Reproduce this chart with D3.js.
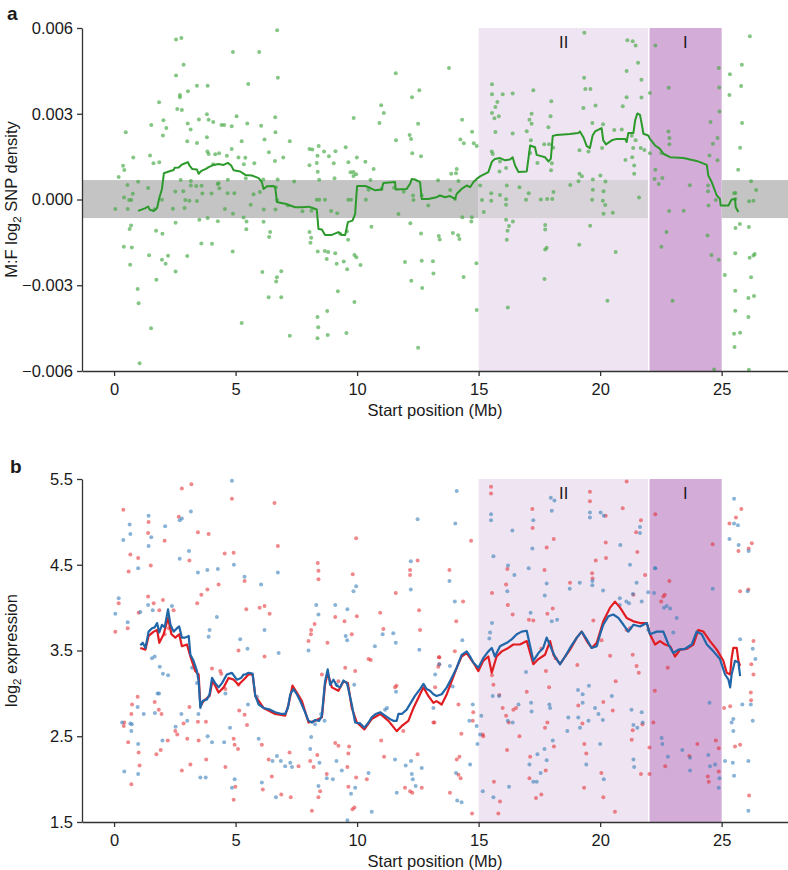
<!DOCTYPE html>
<html><head><meta charset="utf-8">
<script src="https://cdn.jsdelivr.net/npm/d3@7/dist/d3.min.js"></script>
<style>
body{margin:0;background:#fff;}
svg{display:block;}
text{font-family:"Liberation Sans",Arial,Helvetica,sans-serif;fill:#1a1a1a;}
</style></head>
<body><svg id="chart" width="788" height="870"></svg>
<script>
// ---------------- DATA ----------------
const xTicks = [0, 5, 10, 15, 20, 25];
const snpTicks = [-0.006, -0.003, 0, 0.003, 0.006];
const exprTicks = [1.5, 2.5, 3.5, 4.5, 5.5];
const regions = [{label: "II", start: 15, end: 22}, {label: "I", start: 22, end: 25}];
const snpBand = [-0.00065, 0.00068];

// Panel a: M:F log2 SNP density per window [start Mb, value]
const snpPoints = [
[6.71,0.00592],[2.55,0.0056],[2.77,0.00565],[4.89,0.00516],[5.97,0.00516],[2.86,0.00471],[6.74,0.00426],[11.59,0.00442],[2.55,0.00434],[5.52,0.00404],[3.41,0.00398],[3.85,0.00398],[3.04,0.00379],[2.71,0.00366],[2.71,0.00358],[12.26,0.00358],[12.56,0.00382],[1.85,0.0034],[2.6,0.00317],[2.79,0.00313],[10.99,0.0033],[11.1,0.00303],[5.04,0.00291],[3.82,0.00298],[2.03,0.00277],[6.63,0.00288],[9.86,0.00285],[1.53,0.00261],[3.03,0.00266],[3.49,0.0028],[3.89,0.00279],[4.08,0.00271],[4.42,0.00261],[4.53,0.00261],[4.84,0.00256],[5.48,0.00266],[6.05,0.00258],[10.92,0.00268],[12.51,0.00265],[0.48,0.00235],[2.15,0.0025],[3.15,0.00245],[6.64,0.00235],[2.01,0.00224],[12.16,0.00226],[11.6,0.00207],[12.22,0.00212],[3.82,0.00218],[6.19,0.0021],[7.23,0.00204],[3.01,0.00204],[3.41,0.00198],[5.25,0.00204],[8.42,0.00187],[8.04,0.00177],[8.16,0.00175],[9.53,0.00183],[9.11,0.00169],[8.64,0.00168],[4.84,0.00177],[3.84,0.00168],[3.89,0.00159],[4.32,0.00162],[4.16,0.00158],[4.64,0.00153],[5.12,0.00147],[5.4,0.00146],[6.37,0.00165],[6.62,0.00135],[6.96,0.00147],[1.48,0.00154],[0.79,0.00147],[12.27,0.00162],[12.63,0.00151],[8.37,0.00153],[8.34,0.00128],[8.84,0.00151],[9.64,0.0013],[9.99,0.00147],[10.34,0.00132],[8.04,0.0012],[9.04,0.00127],[0.37,0.00118],[1.62,0.00127],[1.86,0.0013],[0.42,0.00103],[4.08,0.00123],[5.34,0.00123],[5.77,0.00127],[10.68,0.00107],[8.38,0.00097],[9.73,0.00095],[9.85,0.00096],[9.96,0.00088],[9.85,0.00082],[9.07,0.00074],[8.44,0.00069],[7.41,0.00063],[6.73,0.0007],[6.14,0.0007],[5.42,0.00074],[4.68,0.00069],[4.3,0.00057],[2.74,0.00068],[3.16,0.00065],[0.99,0.00062],[0.19,0.00079],
[0.55,0.00051],[0.77,0.0002],[1.4,0.0004],[0.41,0.00007],[0.62,-0.00002],[0.71,-0.00002],[0.56,-0.00033],[0.05,-0.00033],[1.67,-0.00034],[1.97,-0.00001],[2.52,0.00028],[2.85,0.00029],[2.93,-0.00002],[3.1,-0.00004],[3.41,-0.00005],[3.63,0.00021],[3.16,0.00049],[3.38,0.00047],[3.6,0.00048],[4.26,0.00054],[4.33,0.00039],[4.67,0.00022],[4.95,0.00022],[4.01,0.00021],[2.42,-0.00032],[2.9,-0.0003],[4.56,-0.00033],[4.89,-0.0005],[5.62,-0.00018],[6,0.00026],[6.16,-0.00035],[6.64,-0.00035],[7.15,-0.00021],[8.34,-0.00001],[8.44,-0.00001],[8.68,-0.00001],[9.64,-0.00001],[9.75,-0.00001],[9.18,-0.00048],[8.93,-0.0004],[5.74,0.00018],[6.66,0.00043],[6.71,-0.00002],[7.75,-0.00041],[8.12,-0.00039],[10.55,0.00068],[10.47,0.00034],[11.01,0.00037],[11.52,0.00041],[11.92,0.00027],[12.3,0.00014],[12.32,-0.00002],[12.66,0.00014],[11.7,-0.00051],[10.36,-0.00001],[12.93,-0.00021],
[3.85,-0.00065],[3.51,-0.00071],[4.27,-0.00076],[2.53,-0.00081],[5.33,-0.00063],[5.45,-0.00077],[6.15,-0.00078],[0.7,-0.00091],[0.64,-0.00103],[1.73,-0.00109],[1.99,-0.0012],[5.44,-0.00104],[6.42,-0.00114],[6.38,-0.00131],[8.04,-0.00114],[8.11,-0.00134],[9.3,-0.0012],[9.58,-0.00111],[10.59,-0.00095],[12.19,-0.00083],[13.36,-0.00128],[13.4,-0.0014],[12.63,-0.00119],[0.4,-0.00165],[0.73,-0.00168],[3.59,-0.00154],[4.03,-0.00155],[8.08,-0.00151],[9.63,-0.00141],[1.44,-0.00195],[2.22,-0.00197],[1.97,-0.00211],[2.12,-0.00225],[3.01,-0.00198],[4.88,-0.00182],[8.38,-0.00182],[8.67,-0.0018],[8.81,-0.00184],[9.1,-0.00188],[9.89,-0.00194],[9.97,-0.00202],[0.66,-0.00228],[8.75,-0.00208],[9.16,-0.00225],[9.45,-0.00217],[9.59,-0.00244],[10.14,-0.00229],[11.97,-0.00219],[12.66,-0.00214],[2.53,-0.00252],[6.1,-0.00254],[6.88,-0.00251],[6.7,-0.00272],[6.67,-0.00287],[1.74,-0.00281],[0.97,-0.00313],[13.14,-0.00259],[12.23,-0.00284],[12.68,-0.0031],[9.21,-0.00321],[1.01,-0.00363],[6.36,-0.00342],[6.88,-0.00342],[9.89,-0.00359],[5.25,-0.00432],[1.52,-0.0045],[8.77,-0.0039],[8.37,-0.00411],[8.4,-0.00447],[8.37,-0.00485],[8.79,-0.00474],[9.56,-0.00467],[7.23,-0.00477],[12.51,-0.00519],[1.05,-0.00573],
[19.35,0.00583],[21.12,0.00557],[21.34,0.00554],[21.46,0.00539],[21.56,0.00478],[21.09,0.0045],[21.7,0.00419],[22.05,0.00373],[22.27,0.00539],[22.82,0.00391],[21.7,0.00357],[20.93,0.00326],[21.09,0.00358],[13.78,0.0046],[15.55,0.00403],[15.55,0.00368],[15.99,0.00368],[16.4,0.00371],[17.25,0.00382],[19.34,0.00426],[19.39,0.00387],[19.6,0.00387],[17.99,0.00344],[15.77,0.00341],[15.69,0.00324],[15.55,0.00303],[15.83,0.00291],[15.65,0.00284],[17.18,0.003],[17.09,0.00279],[17.18,0.00265],[17.96,0.00291],[16.4,0.00231],[16.98,0.00239],[15.69,0.00236],[17.87,0.00253],[19.31,0.0032],[19.81,0.00329],[19.68,0.00268],[20.12,0.00263],[20.58,0.00243],[20.89,0.00245],[21.3,0.00223],[21.46,0.00207],[14.32,0.00279],[14.73,0.00237],[14.25,0.0021],[14.39,0.00197],[14.8,0.00197],[14.92,0.00187],[15.54,0.00168],[15.58,0.00159],[15.88,0.00133],[15.86,0.00098],[16.13,0.0011],[17.15,0.00207],[17.12,0.00163],[17.42,0.00128],[17.7,0.00193],[17.9,0.00193],[18.07,0.00181],[17.98,0.00102],[18.01,0.00127],[19.15,0.00172],[19.52,0.00168],[20.08,0.0018],[19.15,0.0009],[19.25,0.00081],[19.7,0.0007],[20.01,0.00084],[20.22,0.00063],[21.36,0.0018],[21.67,0.0018],[21.82,0.00173],[21.4,0.00119],[21.4,0.0009],[21.04,0.00138],[21.32,0.00148],[22.81,0.00238],[22.85,0.00215],[22.85,0.00193],[22.52,0.00163],[22.05,0.00162],[22.27,0.00104],[22.41,0.00054],[22.56,0.00075],[22.24,0.00072],[24.54,0.00271],[24.64,0.00195],[24.83,0.00215],[24.91,0.00308],[24.9,0.00392],[24.83,0.00137],[24.88,0.0046],[24.5,0.00154],[24.44,0.00049],[24.44,0.00029],[24.76,-0.00002],[25.34,0.00438],[25.32,0.00366],[25.83,0.00471],[25.8,0.00397],[25.84,0.00268],[25.76,0.00181],[25.68,0.00104],[26.21,0.00064],[26.42,0.00033],[26.13,-0.00006],[26.31,-0.00004],[25.57,0.00023],[25.57,0.00002],[26.16,0.00571],[13.33,0.00067],[14.1,0.00107],[14.07,0.00092],[13.87,0.0009],[14.17,0.00065],
[15.06,0.00049],[15.14,-0.00002],[15.21,-0.00044],[15.52,0.00022],[15.52,-0.00004],[15.88,0.00016],[16.16,0.00049],[16.13,0.00001],[16.13,-0.00018],[16.68,0.00043],[17.06,0.00022],[16.95,-0.00001],[17.56,0],[17.82,0.00002],[18.03,0.00002],[18.08,0.00026],[18.77,0.00051],[19.11,0.00064],[19.7,0.00034],[19.67,-0.00001],[20.11,-0.00004],[20.14,0.00029],[20.21,-0.00019],[20.14,-0.0005],[20.52,-0.00046],[21.6,0.00007],[22.84,-0.0004],[23.44,-0.00039],[23.69,0.0005],[24.46,-0.00021],[25.51,0.00022],[14.33,-0.00062],[14.72,-0.00062],[14.7,-0.00077],[14.03,0.00002],[13.83,0.00033],
[16.13,-0.00071],[16.25,-0.00093],[16.19,-0.00109],[16.16,-0.00141],[16.41,-0.00077],[17.74,-0.00089],[17.74,-0.00105],[17.74,-0.00175],[17.8,-0.00169],[19.14,-0.00158],[19.59,-0.00092],[20.64,-0.00184],[22.73,-0.00114],[22.52,-0.00165],[24.42,-0.00126],[24.58,-0.00194],[24.88,-0.00211],[25.57,-0.001],[25.56,-0.00188],[25.75,-0.00086],[26.12,-0.00096],[26.15,-0.00204],[26.31,-0.00196],[26.36,-0.00191],[26.21,-0.00272],[26.33,-0.00338],[26.1,-0.00345],[26.1,-0.00411],[25.56,-0.00319],[25.56,-0.00389],[25.51,-0.0047],[25.76,-0.00466],[25.53,-0.00516],[26.12,-0.00596],[25.13,-0.00264],[24.69,-0.00595],[22.98,-0.00354],[20.3,-0.00354],[17.71,-0.00278],[16.2,-0.00378],[14.92,-0.00387],[14.91,-0.00223],[14.38,-0.00271],[13.12,-0.00216],[13.94,-0.00117],[14.16,-0.00125],[14.21,-0.00138]
];

// Panel a: sliding-window average
const snpLine = [
[0.99,-0.0004],[1.29,-0.0003],[1.4,-0.00025],[1.47,-0.00036],[1.63,-0.0004],[1.77,-0.0003],[1.86,0.00005],[1.97,0.00037],[2.05,0.00092],[2.25,0.00098],[2.45,0.00103],[2.49,0.00111],[2.66,0.00112],[2.77,0.00121],[2.9,0.00126],[3.04,0.00131],[3.1,0.00119],[3.21,0.00107],[3.41,0.00105],[3.48,0.0009],[3.59,0.001],[3.78,0.00107],[3.89,0.00113],[4.1,0.00121],[4.3,0.00124],[4.51,0.00121],[4.68,0.00128],[4.82,0.00119],[4.92,0.00102],[5.19,0.00098],[5.4,0.00086],[5.67,0.00084],[5.95,0.00075],[6.08,0.00061],[6.15,0.00037],[6.29,0.00046],[6.56,0.00047],[6.63,0.00043],[6.7,-0.00009],[6.88,-0.00012],[7.04,-0.00015],[7.25,-0.00021],[7.45,-0.00027],[7.73,-0.00027],[8,-0.00025],[8.14,-0.00029],[8.34,-0.00035],[8.41,-0.00103],[8.55,-0.00105],[8.68,-0.00124],[8.96,-0.00124],[9.23,-0.00114],[9.37,-0.00124],[9.51,-0.00124],[9.62,-0.00079],[9.81,-0.00074],[9.92,-0.0005],[9.96,0.00002],[10,0.00047],[10.33,0.00047],[10.53,0.00041],[10.74,0.00032],[11.01,0.00035],[11.08,0.00058],[11.56,0.00061],[11.59,0.00035],[12.04,0.00037],[12.18,0.00055],[12.25,0.00072],[12.38,0.0007],[12.59,0.00061],[12.66,0.00002],[12.93,0.00002],[13.27,0.00008],[13.41,0.00014],[13.62,0.00008],[13.82,0.00012],[14.03,0.00002],[14.1,0.0002],[14.3,0.00037],[14.51,0.00049],[14.65,0.00043],[14.79,0.00061],[14.92,0.00072],[15.06,0.00081],[15.4,0.00096],[15.54,0.00131],[15.67,0.00142],[15.88,0.00145],[16.09,0.00137],[16.29,0.0014],[16.4,0.00148],[16.5,0.00119],[16.64,0.00096],[16.98,0.00098],[17.12,0.00189],[17.32,0.00183],[17.39,0.00156],[17.73,0.00148],[17.87,0.00133],[17.97,0.00142],[18.05,0.00222],[18.21,0.00226],[18.76,0.00229],[19.1,0.00233],[19.17,0.00238],[19.31,0.00218],[19.45,0.00187],[19.58,0.0018],[19.69,0.00224],[19.79,0.00238],[20.06,0.0025],[20.13,0.00207],[20.24,0.00193],[20.48,0.00207],[20.68,0.00212],[21.03,0.00212],[21.09,0.00201],[21.16,0.00233],[21.37,0.00233],[21.44,0.00277],[21.53,0.00301],[21.64,0.00296],[21.71,0.00265],[21.78,0.0023],[21.98,0.00224],[22.05,0.00212],[22.26,0.00189],[22.46,0.00177],[22.6,0.0016],[22.88,0.00148],[23.43,0.00145],[23.97,0.00135],[24.39,0.00121],[24.45,0.00084],[24.59,0.00061],[24.8,0.00014],[24.93,0.00002],[24.96,-0.00021],[25.28,-0.00021],[25.41,0],[25.55,0.00002],[25.58,-0.00027],[25.69,-0.00044]
];

// Panel b: log2 expression per gene, two samples
const exprRed = [
[0.38,5.14],[0.67,4.62],[0.6,4.42],[0.99,4.58],[1.42,5.0],[1.4,4.87],[1.51,4.49],[2.08,4.78],[2.66,5.06],[2.79,5.39],[3.18,5.44],[3.1,4.55],[3.45,4.88],[3.89,4.86],[4.55,4.63],[4.92,4.64],[4.85,5.27],[6.6,5.22],[6.74,4.72],[8.38,4.52],[8.41,4.43],[8.41,4.33],[9.96,4.81],[9.82,4.39],[11.59,4.17],[12.18,4.44],[12.18,4.38],[12.49,4.55],[12.55,3.97],[0.05,3.72],[0.19,4.05],[0.56,3.76],[1.01,3.94],[1.4,4.13],[1.63,4.05],[2.01,4.09],[1.86,3.97],[2.25,3.76],[2.45,3.97],[2.08,3.69],[3.42,4.05],[3.59,4.15],[3.84,4.21],[4.3,4.27],[5.44,3.98],[5.37,4.31],[5.99,4.0],[6.19,4.02],[6.4,3.93],[6.19,3.43],[5.12,3.5],[8.1,3.69],[8.11,3.74],[8.25,3.81],[8.78,3.59],[9.1,3.89],[9.48,3.84],[9.78,3.69],[9.99,3.9],[10.95,3.94],[11.08,3.75],[10.56,3.39],[13.37,3.42],[13.34,3.31],[12.59,3.74],[13.21,3.07],[11.56,3.07],[0.4,2.62],[0.74,2.87],[0.71,2.76],[0.97,2.96],[0.42,2.66],[0.58,2.43],[1.01,2.31],[1.05,2.16],[0.71,1.94],[1.67,2.9],[1.84,2.81],[1.95,2.76],[1.74,2.29],[1.92,2.34],[2.21,2.45],[2.52,2.56],[2.6,2.52],[2.79,2.1],[3.01,2.47],[3.14,2.17],[3.48,2.45],[3.45,2.67],[3.78,2.67],[3.79,2.23],[4.03,3.29],[4.37,3.26],[4.41,3.23],[4.58,3.05],[5.12,3.1],[4.92,2.47],[4.96,2.4],[5.1,2.35],[4.99,1.91],[4.92,1.76],[4.58,2.14],[5.47,2.63],[5.37,2.75],[5.15,2.8],[6.08,2.4],[6.12,1.88],[6.36,2.23],[6.49,2.03],[6.88,1.82],[7.27,1.79],[7.22,2.31],[7.59,2.15],[8.07,2.21],[8.21,2.14],[8.36,2.28],[8.48,1.86],[8.41,1.79],[8.14,1.63],[8.75,2.06],[9.1,2.42],[9.23,2.39],[9.67,2.38],[9.64,2.3],[9.6,2.14],[9.96,2.02],[9.64,1.91],[9.81,1.65],[9.89,1.67],[8.0,3.61],[8.55,3.22],[9.23,3.14],[9.51,3.3],[9.92,3.26],[10.47,3.4],[10.99,2.45],[11.11,2.26],[11.62,3.09],[11.9,2.56],[11.97,1.9],[12.18,1.86],[12.27,1.84],[12.49,2.29],[12.66,1.9],[13.14,2.66],[10.4,2.0],[2.86,2.65],[3.1,2.84],
[15.51,5.41],[15.51,5.33],[17.21,5.15],[17.22,4.93],[17.8,4.7],[18.09,4.8],[19.58,5.35],[19.58,5.24],[20.23,5.07],[20.93,5.16],[21.09,5.47],[21.48,4.88],[21.68,5.02],[22.27,5.09],[24.63,4.74],[25.69,4.66],[25.81,5.15],[25.59,5.05],[25.32,4.98],[26.11,4.69],[26.24,4.75],[19.82,4.55],[19.67,4.4],[19.69,4.34],[18.76,4.29],[17.71,4.44],[16.18,4.45],[16.13,4.27],[15.55,4.17],[16.2,4.03],[16.4,3.92],[17.07,3.86],[17.25,3.85],[17.83,3.93],[18.05,3.99],[19.72,3.85],[20.24,4.58],[20.23,4.76],[21.53,4.65],[21.37,4.15],[21.85,4.38],[22.85,4.31],[22.6,4.13],[22.51,4.07],[22.66,4.15],[21.09,3.74],[21.23,3.76],[20.06,3.62],[20.41,3.44],[21.34,3.45],[21.5,3.32],[21.59,3.24],[22.78,3.3],[26.22,3.34],[26.31,3.61],[25.76,4.19],[26.1,4.21],[14.69,4.78],[14.08,3.84],[14.36,4.07],[13.8,4.44],[14.02,3.49],[13.38,3.34],[13.38,3.42],[14.17,2.87],[14.78,2.78],[14.76,2.68],[14.29,2.53],[14.21,2.26],[14.1,2.23],[14.17,2.05],[13.82,1.84],[14.26,2.01],[14.73,1.6],[13.18,2.66],[15.19,2.5],[15.61,3.1],[15.85,2.98],[15.99,2.83],[16.13,2.74],[16.24,2.66],[16.54,2.83],[16.68,2.5],[16.98,3.02],[17.12,2.26],[17.09,2.01],[17.36,1.78],[17.58,1.82],[17.76,2.1],[17.73,2.6],[17.83,2.66],[17.9,3.07],[18.1,2.38],[17.77,3.26],[17.58,3.52],[18.17,3.41],[19.06,3.33],[19.1,2.86],[19.27,2.65],[19.35,2.41],[19.34,1.9],[19.43,2.3],[20.05,2.07],[20.13,1.79],[20.13,2.9],[20.52,2.8],[20.64,3.14],[20.61,1.62],[21.3,2.46],[21.34,2.57],[21.68,2.06],[21.74,2.64],[22.03,2.37],[22.19,2.66],[22.25,3.03],[22.68,2.15],[23.67,2.27],[24.0,2.41],[24.43,2.03],[24.47,1.97],[24.76,2.45],[24.88,2.36],[24.88,2.09],[25.55,2.38],[25.76,2.4],[25.35,2.85],[26.13,1.81],[26.2,3.01],[26.21,2.92],[26.31,3.22],[25.1,2.83],[22.03,2.06],[15.88,1.74],[15.81,1.6],[15.63,1.97],[15.55,3.21],[15.17,2.52],[16.43,2.81],[16.17,2.34]
];
const exprBlue = [
[0.38,4.79],[0.67,4.86],[0.64,4.97],[0.99,4.46],[1.42,5.07],[1.42,4.72],[1.53,4.82],[2.1,4.95],[2.7,4.57],[2.7,5.02],[2.79,5.04],[3.16,5.12],[3.08,4.66],[3.45,4.41],[3.84,4.44],[4.27,4.45],[4.93,4.5],[4.85,5.48],[5.37,4.36],[6.05,4.27],[6.74,4.41],[9.96,4.25],[9.85,4.19],[12.21,4.54],[12.21,4.21],[12.49,5.03],[0.05,3.93],[0.19,4.11],[0.56,3.83],[1.08,3.95],[1.4,4.03],[1.59,3.97],[2.38,4.02],[1.56,3.41],[1.67,3.43],[1.88,3.31],[2.01,3.23],[2.22,3.21],[1.85,3.0],[3.89,3.66],[3.93,3.74],[4.23,3.89],[5.19,3.63],[5.49,3.52],[6.19,3.74],[6.77,3.47],[8.0,3.5],[8.32,4.03],[8.41,3.92],[9.1,4.03],[9.6,3.98],[9.53,3.67],[9.59,3.62],[10.73,3.55],[11.05,3.69],[11.49,3.7],[11.59,3.59],[12.56,3.51],[13.38,3.34],[13.14,2.83],[13.21,3.22],[11.6,3.02],[0.33,2.66],[0.67,2.65],[0.71,2.56],[0.73,2.64],[0.97,2.84],[0.99,2.41],[0.99,2.06],[0.42,2.09],[1.22,2.76],[1.68,2.77],[1.79,3.0],[1.99,2.45],[2.77,2.76],[2.53,2.61],[3.01,2.68],[3.21,3.3],[3.41,3.12],[3.47,2.76],[3.85,2.5],[3.77,2.02],[3.55,2.02],[4.03,2.43],[4.53,2.43],[4.58,3.0],[4.77,2.6],[4.85,1.9],[4.96,2.0],[5.51,2.87],[5.88,2.96],[5.95,2.47],[6.08,1.96],[6.52,2.21],[6.66,1.79],[6.7,2.27],[6.86,2.21],[7.04,2.15],[7.25,2.19],[7.32,2.14],[8.11,2.49],[8.07,2.35],[8.45,2.19],[8.41,1.92],[8.75,2.01],[9.15,2.21],[9.0,2.0],[9.37,2.1],[9.75,1.83],[9.6,1.52],[9.92,1.9],[10.47,2.07],[10.6,1.62],[11.23,2.83],[11.56,2.23],[11.63,1.84],[12.0,2.16],[12.22,2.21],[12.25,2.06],[12.29,2.0],[12.41,1.92],[12.66,2.13],[11.15,2.81],[9.88,3.1],[9.16,3.1],[8.27,2.64],[8.52,2.76],[8.66,2.68],
[14.1,5.36],[14.04,4.98],[15.51,5.09],[15.51,5.02],[15.61,4.6],[16.39,4.9],[17.25,5.02],[17.21,4.69],[17.97,5.28],[18.01,5.13],[18.12,5.25],[19.58,5.11],[19.58,5.05],[20.02,5.11],[20.15,5.07],[21.64,4.94],[21.64,4.87],[22.26,4.46],[22.74,4.02],[22.88,3.99],[24.63,4.22],[25.51,5.27],[25.51,4.98],[25.67,4.96],[25.32,4.8],[25.7,4.73],[26.11,4.66],[26.07,4.19],[26.28,3.52],[26.39,3.4],[25.76,3.63],[17.06,4.46],[16.47,4.38],[16.18,4.19],[16.21,4.49],[15.55,3.82],[15.47,3.71],[15.44,3.64],[17.14,3.94],[18.01,3.84],[17.72,4.14],[17.8,4.28],[18.23,3.86],[19.16,4.29],[18.75,4.22],[19.68,4.31],[19.68,4.26],[20.12,4.2],[20.81,4.11],[20.81,4.03],[21.08,4.07],[21.71,4.07],[21.5,4.29],[21.19,4.05],[21.35,4.16],[21.98,4.18],[22.63,4.0],[23.15,3.88],[21.23,4.5],[20.83,4.73],[21.98,3.74],[22.27,4.46],[22.22,4.17],[23.01,3.71],[13.8,4.31],[14.02,4.07],[14.33,3.62],[13.82,3.32],[13.93,3.08],[14.76,2.87],[14.62,2.68],[14.92,2.62],[15.11,2.74],[15.06,2.52],[14.95,2.41],[15.58,2.97],[15.84,2.97],[16.2,2.68],[16.4,2.66],[16.64,2.87],[16.95,3.25],[17.16,2.89],[17.18,2.79],[17.42,2.29],[17.09,2.17],[17.55,2.07],[17.8,2.22],[17.91,2.87],[17.94,2.83],[18.69,2.72],[18.65,2.56],[19.09,3.04],[19.28,2.99],[19.28,2.89],[19.17,2.6],[19.43,2.17],[19.52,2.68],[19.79,2.83],[19.93,2.76],[20.11,2.69],[20.0,2.41],[20.15,2.0],[20.48,2.97],[21.29,2.81],[21.37,2.63],[21.37,2.23],[21.4,2.14],[21.53,2.6],[21.75,2.66],[21.71,2.78],[22.56,2.41],[22.53,2.48],[22.79,2.26],[23.38,2.34],[23.7,2.1],[23.7,2.25],[24.5,2.89],[24.45,2.28],[24.52,2.15],[24.73,2.17],[24.88,1.9],[24.91,2.01],[25.14,2.21],[25.85,2.87],[25.41,2.66],[25.46,2.19],[25.48,2.7],[25.48,2.56],[25.51,2.04],[26.1,2.21],[26.28,2.68],[26.1,1.63],[26.2,2.87],[14.12,1.75],[14.3,1.73],[14.07,2.07],[14.65,2.17],[15.17,1.86],[15.61,1.79],[16.25,1.91],[17.25,1.97],[17.39,1.97],[17.71,2.35],[18.05,2.45],[19.1,2.72],[19.54,3.09]
];

// Panel b: sliding-window averages
const redLine = [
[1.08,3.53],[1.29,3.51],[1.42,3.67],[1.63,3.72],[1.77,3.74],[1.86,3.59],[2.04,3.69],[2.22,3.88],[2.36,3.69],[2.52,3.65],[2.68,3.69],[2.79,3.55],[3.0,3.57],[3.14,3.43],[3.34,3.26],[3.48,3.22],[3.55,2.85],[3.68,2.91],[3.93,2.97],[4.05,3.15],[4.3,3.01],[4.51,3.07],[4.71,3.18],[4.92,3.16],[5.12,3.1],[5.33,3.16],[5.53,3.22],[5.7,3.22],[5.81,2.97],[6.15,2.83],[6.63,2.76],[7.04,2.74],[7.18,2.87],[7.34,3.09],[7.52,3.01],[7.73,2.91],[8.0,2.66],[8.27,2.68],[8.55,2.72],[8.68,3.1],[8.79,3.24],[8.96,3.07],[9.23,3.03],[9.44,3.14],[9.62,3.12],[9.78,2.83],[9.99,2.66],[10.3,2.58],[10.6,2.7],[10.95,2.76],[11.29,2.68],[11.63,2.56],[11.84,2.62],[12.11,2.68],[12.32,2.83],[12.59,2.99],[12.73,3.07],[12.93,2.97],[13.14,2.89],[13.27,2.91],[13.48,2.87],[13.69,2.99],[13.89,3.14],[14.1,3.3],[14.3,3.43],[14.51,3.47],[14.65,3.41],[14.78,3.36],[14.99,3.26],[15.19,3.38],[15.4,3.43],[15.54,3.24],[15.74,3.43],[15.95,3.49],[16.22,3.53],[16.43,3.57],[16.7,3.57],[16.98,3.61],[17.12,3.47],[17.25,3.34],[17.46,3.4],[17.73,3.45],[17.94,3.61],[18.08,3.45],[18.35,3.34],[18.56,3.43],[18.76,3.51],[19.04,3.65],[19.24,3.72],[19.45,3.61],[19.65,3.53],[19.86,3.59],[20.13,3.84],[20.41,4.0],[20.61,4.07],[20.82,4.0],[21.09,3.88],[21.37,3.84],[21.64,3.82],[21.92,3.82],[22.05,3.69],[22.26,3.57],[22.46,3.61],[22.67,3.57],[22.88,3.55],[23.08,3.43],[23.29,3.51],[23.56,3.52],[23.84,3.57],[24.04,3.74],[24.25,3.72],[24.52,3.61],[24.8,3.51],[25.07,3.38],[25.21,3.24],[25.35,3.22],[25.41,3.41],[25.48,3.53],[25.62,3.53],[25.69,3.38],[25.76,3.32]
];
const blueLine = [
[1.08,3.56],[1.18,3.59],[1.29,3.53],[1.42,3.72],[1.56,3.76],[1.67,3.77],[1.77,3.82],[1.86,3.71],[1.97,3.8],[2.08,3.77],[2.22,3.98],[2.32,3.8],[2.45,3.72],[2.59,3.76],[2.68,3.78],[2.79,3.65],[2.93,3.65],[3.07,3.67],[3.14,3.45],[3.27,3.38],[3.41,3.26],[3.48,3.14],[3.55,2.83],[3.64,2.91],[3.82,2.93],[3.93,2.99],[4.03,3.18],[4.16,3.12],[4.3,3.07],[4.44,3.12],[4.64,3.22],[4.85,3.24],[5.05,3.16],[5.23,3.18],[5.33,3.22],[5.4,3.22],[5.53,3.24],[5.7,3.23],[5.81,2.97],[5.95,2.87],[6.15,2.83],[6.42,2.81],[6.63,2.78],[6.9,2.76],[7.04,2.76],[7.15,2.83],[7.25,2.99],[7.38,3.05],[7.52,2.99],[7.66,2.91],[7.86,2.78],[8.0,2.68],[8.14,2.66],[8.27,2.69],[8.44,2.68],[8.55,2.74],[8.68,3.14],[8.79,3.28],[8.89,3.1],[9.03,3.16],[9.16,3.09],[9.3,3.07],[9.44,3.15],[9.58,3.12],[9.64,3.05],[9.78,2.87],[9.92,2.66],[10.12,2.65],[10.3,2.6],[10.47,2.66],[10.6,2.72],[10.77,2.76],[10.95,2.78],[11.15,2.74],[11.36,2.7],[11.49,2.68],[11.63,2.68],[11.7,2.76],[11.84,2.76],[12.04,2.81],[12.25,2.91],[12.38,2.97],[12.59,3.05],[12.73,3.11],[12.86,3.05],[13.0,3.03],[13.14,2.99],[13.27,2.97],[13.48,2.99],[13.69,3.07],[13.89,3.18],[14.1,3.3],[14.3,3.45],[14.51,3.49],[14.65,3.43],[14.78,3.36],[14.99,3.3],[15.19,3.41],[15.4,3.49],[15.54,3.53],[15.67,3.43],[15.88,3.55],[16.16,3.59],[16.36,3.63],[16.57,3.69],[16.77,3.72],[16.98,3.73],[17.12,3.55],[17.25,3.38],[17.46,3.47],[17.66,3.53],[17.8,3.65],[18.01,3.51],[18.14,3.43],[18.35,3.34],[18.56,3.43],[18.76,3.53],[19.04,3.65],[19.24,3.72],[19.45,3.63],[19.65,3.53],[19.86,3.55],[20.0,3.69],[20.13,3.8],[20.34,3.9],[20.54,3.92],[20.75,3.88],[20.96,3.8],[21.16,3.72],[21.37,3.8],[21.64,3.78],[21.92,3.82],[22.05,3.69],[22.33,3.72],[22.6,3.72],[22.81,3.57],[23.01,3.47],[23.22,3.51],[23.49,3.52],[23.77,3.57],[23.97,3.72],[24.18,3.69],[24.39,3.57],[24.66,3.49],[24.93,3.4],[25.14,3.22],[25.28,3.16],[25.35,3.07],[25.41,3.22],[25.55,3.38],[25.69,3.36],[25.76,3.2]
];

// ---------------- DRAWING ----------------
const svg = d3.select("#chart");
const FONT = 16.5;
const x = d3.scaleLinear().domain([-1.32, 27.73]).range([82, 788]);
const yA = d3.scaleLinear().domain([-0.006, 0.006]).range([371, 28]);
const yB = d3.scaleLinear().domain([1.5, 5.5]).range([822, 479]);

const COL = {
  band: "#c4c4c4", regII: "#efe4f1", regIIonBand: "#d8d3d9", regI: "#d3acd7",
  green: "#43a843", greenLine: "#2b9a2b", red: "#e4262c", blue: "#3a80bb",
  redLine: "#e11d22", blueLine: "#2166a8", axis: "#333"
};

function drawRegions(g, y) {
  const top = y.range()[1], bottom = y.range()[0];
  regions.forEach((r, i) => {
    g.append("rect")
      .attr("x", x(r.start)).attr("y", top)
      .attr("width", x(r.end) - x(r.start)).attr("height", bottom - top)
      .attr("fill", i === 0 ? COL.regII : COL.regI);
  });
}
function drawRegionLabels(g, y) {
  const top = y.range()[1];
  regions.forEach(r => {
    g.append("text").attr("x", x((r.start + r.end) / 2)).attr("y", top + 20)
      .attr("text-anchor", "middle").attr("font-size", FONT).text(r.label);
  });
}
function drawSeparator(g, y) {
  g.append("line").attr("x1", x(regions[1].start)).attr("x2", x(regions[1].start))
    .attr("y1", y.range()[1]).attr("y2", y.range()[0])
    .attr("stroke", "#fff").attr("stroke-width", 1.6);
}
function drawAxes(g, y, ticks, fmt) {
  const bottom = y.range()[0];
  const ax = g.append("g").attr("transform", `translate(0,${bottom})`)
    .call(d3.axisBottom(x).tickValues(xTicks).tickSize(5).tickSizeOuter(0).tickPadding(7));
  const ay = g.append("g").attr("transform", `translate(${x.range()[0]},0)`)
    .call(d3.axisLeft(y).tickValues(ticks).tickFormat(fmt).tickSize(5).tickSizeOuter(0).tickPadding(4));
  [ax, ay].forEach(a => {
    a.selectAll("path,line").attr("stroke", COL.axis).attr("stroke-width", 1.3);
    a.selectAll("text").attr("font-size", FONT).attr("fill", "#1a1a1a")
      .attr("font-family", '"Liberation Sans",Arial,sans-serif');
  });
  g.append("text").attr("x", (x.range()[0] + x.range()[1]) / 2).attr("y", bottom + 45)
    .attr("text-anchor", "middle").attr("font-size", FONT).text("Start position (Mb)");
}
function yTitle(g, y, before, after) {
  const cy = (y.range()[0] + y.range()[1]) / 2;
  const t = g.append("text").attr("transform", `translate(17,${cy}) rotate(-90)`)
    .attr("text-anchor", "middle").attr("font-size", FONT);
  t.append("tspan").text(before);
  t.append("tspan").attr("font-size", FONT * 0.7).attr("dy", 4).text("2");
  t.append("tspan").attr("dy", -4).text(after);
}

// ----- Panel a -----
const ga = svg.append("g");
drawRegions(ga, yA);
// grey band outside regions, lighter band inside region II, no band in region I
const bandTop = yA(snpBand[1]), bandH = yA(snpBand[0]) - yA(snpBand[1]);
ga.append("rect").attr("x", x.range()[0]).attr("y", bandTop)
  .attr("width", x(regions[0].start) - x.range()[0]).attr("height", bandH).attr("fill", COL.band);
ga.append("rect").attr("x", x(regions[0].start)).attr("y", bandTop)
  .attr("width", x(regions[0].end) - x(regions[0].start)).attr("height", bandH).attr("fill", COL.regIIonBand);
ga.append("rect").attr("x", x(regions[1].end)).attr("y", bandTop)
  .attr("width", x.range()[1] - x(regions[1].end)).attr("height", bandH).attr("fill", COL.band);
drawSeparator(ga, yA);
drawRegionLabels(ga, yA);
ga.append("g").selectAll("circle").data(snpPoints).join("circle")
  .attr("cx", d => x(d[0])).attr("cy", d => yA(d[1])).attr("r", 2)
  .attr("fill", COL.green).attr("fill-opacity", 0.65);
ga.append("path").datum(snpLine)
  .attr("d", d3.line().x(d => x(d[0])).y(d => yA(d[1])))
  .attr("fill", "none").attr("stroke", COL.greenLine).attr("stroke-width", 2).attr("stroke-linejoin", "round");
drawAxes(ga, yA, snpTicks, d3.format(".3f"));
yTitle(ga, yA, "M:F log", " SNP density");
ga.append("text").attr("x", 7).attr("y", 20).attr("font-size", 19).attr("font-weight", "bold").text("a");

// ----- Panel b -----
const gb = svg.append("g");
drawRegions(gb, yB);
drawSeparator(gb, yB);
drawRegionLabels(gb, yB);
gb.append("g").selectAll("circle").data(exprRed).join("circle")
  .attr("cx", d => x(d[0])).attr("cy", d => yB(d[1])).attr("r", 2)
  .attr("fill", COL.red).attr("fill-opacity", 0.55);
gb.append("g").selectAll("circle").data(exprBlue).join("circle")
  .attr("cx", d => x(d[0])).attr("cy", d => yB(d[1])).attr("r", 2)
  .attr("fill", COL.blue).attr("fill-opacity", 0.6);
const lineB = d3.line().x(d => x(d[0])).y(d => yB(d[1]));
gb.append("path").datum(redLine).attr("d", lineB)
  .attr("fill", "none").attr("stroke", COL.redLine).attr("stroke-width", 2.2).attr("stroke-linejoin", "round");
gb.append("path").datum(blueLine).attr("d", lineB)
  .attr("fill", "none").attr("stroke", COL.blueLine).attr("stroke-width", 2.2).attr("stroke-linejoin", "round");
drawAxes(gb, yB, exprTicks, d3.format(".1f"));
yTitle(gb, yB, "log", " expression");
gb.append("text").attr("x", 10).attr("y", 473).attr("font-size", 19).attr("font-weight", "bold").text("b");
</script>
</body></html>
